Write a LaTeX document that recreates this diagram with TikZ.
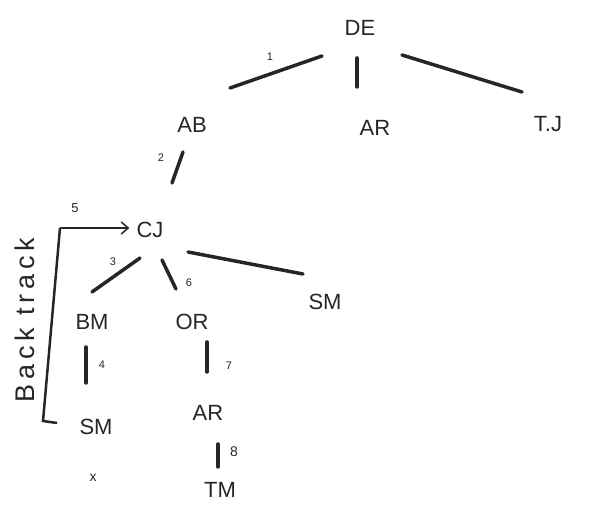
\documentclass[tikz,border=0pt]{standalone}
\usepackage{fontspec}
\setmainfont{Liberation Sans}
\usetikzlibrary{arrows.meta}
\begin{document}
\begin{tikzpicture}[x=1pt,y=-1pt,
  lbl/.style={font=\fontsize{22}{24}\selectfont, text=black!85, inner sep=1pt},
  num/.style={font=\fontsize{11}{12}\selectfont, text=black!85, inner sep=0pt},
  edge/.style={line width=3.5pt, line cap=round, black!85},
  brk/.style={line width=2.5pt, black!85}]
\useasboundingbox (0,0) rectangle (595,510);
% nodes
\node[lbl] (DE) at (360,28) {DE};
\node[lbl] (AB) at (192,125) {AB};
\node[lbl] (AR1) at (375,128) {AR};
\node[lbl] (TJ) at (548,124) {T.J};
\node[lbl] (CJ) at (150,230) {CJ};
\node[lbl] (BM) at (92,322) {BM};
\node[lbl] (OR) at (192,322) {OR};
\node[lbl] (SM1) at (325,302) {SM};
\node[lbl] (SM2) at (96,427) {SM};
\node[lbl] (AR2) at (208,413) {AR};
\node[lbl] (TM) at (220,490) {TM};
\node[num, font=\fontsize{14}{15}\selectfont] (X) at (93,478) {x};
% stub end points
\coordinate (a1) at (322,56);  \coordinate (b1) at (230,88);
\coordinate (a2) at (357,58);  \coordinate (b2) at (357,87);
\coordinate (a3) at (402,55);  \coordinate (b3) at (522,92);
\coordinate (a4) at (183,152); \coordinate (b4) at (172,183);
\coordinate (a5) at (140,258); \coordinate (b5) at (92,292);
\coordinate (a6) at (162,260); \coordinate (b6) at (176,289);
\coordinate (a7) at (188,252); \coordinate (b7) at (303,274);
\coordinate (a8) at (86,347);  \coordinate (b8) at (86,383);
\coordinate (a9) at (207,342); \coordinate (b9) at (207,372);
\coordinate (a10) at (218,444); \coordinate (b10) at (218,467);
% edges
\draw[edge] (a1) -- (b1);
\draw[edge] (a2) -- (b2);
\draw[edge] (a3) -- (b3);
\draw[edge] (a4) -- (b4);
\draw[edge] (a5) -- (b5);
\draw[edge] (a6) -- (b6);
\draw[edge] (a7) -- (b7);
\draw[edge] (a8) -- (b8);
\draw[edge] (a9) -- (b9);
\draw[edge] (a10) -- (b10);
% edge numbers
\node[num] (n1) at (270,57) {1};
\node[num] (n2) at (161,158) {2};
\node[num] (n3) at (113,262) {3};
\node[num] (n6) at (189,283) {6};
\node[num] (n4) at (102,365) {4};
\node[num] (n7) at (229,366) {7};
\node[num, font=\fontsize{14}{15}\selectfont] (n8) at (234,452) {8};
\node[num, font=\fontsize{13}{14}\selectfont] (n5) at (75,208) {5};
% backtrack bracket
\coordinate (bt) at (60,228);
\coordinate (bb) at (43,421);
\coordinate (be) at (57,423);
\draw[brk] (be) -- (bb) -- (bt);
\draw[line width=2.5pt, black!85, shorten >=6pt, -{Straight Barb[length=7pt,width=12pt,line width=1.5pt]}] (bt) -- (bt -| CJ.west);
\node[font=\fontsize{27}{29}\selectfont\addfontfeature{LetterSpace=18}, text=black!85, rotate=90] (BT) at (25,320) {Back track};
\end{tikzpicture}
\end{document}
